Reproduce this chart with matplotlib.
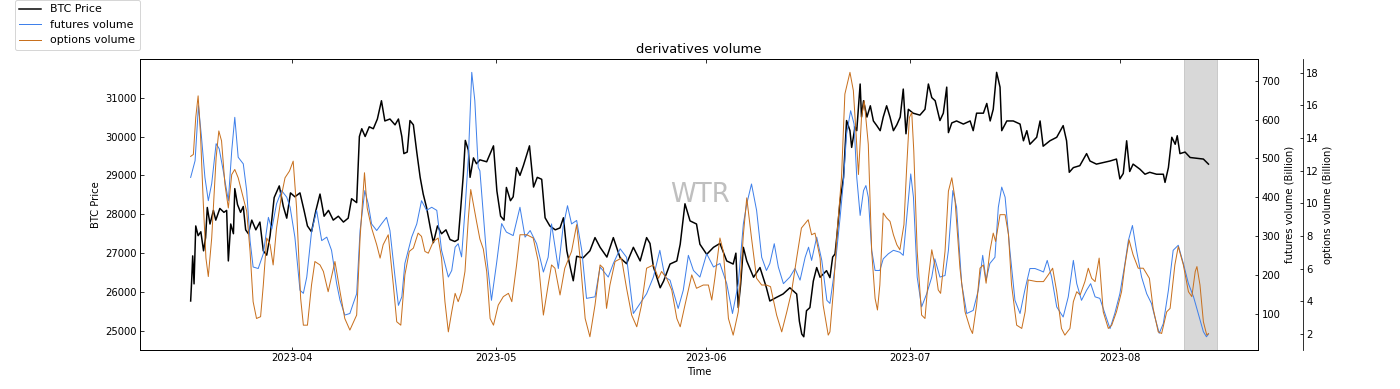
import pandas as pd
import matplotlib
matplotlib.use("Agg")
import matplotlib.pyplot as plt
import matplotlib.dates as mdates

# Werte (Tage seit 2023-03-17)
start = pd.Timestamp("2023-03-17")

price_days = [0.1, 0.25, 0.4, 0.6, 0.85, 1.2, 1.6, 2.0, 2.3, 2.55, 2.95, 3.45, 3.8, 4.4, 5.0, 5.4, 5.65, 6.0,
              6.4, 6.6, 7.0, 7.45, 7.85, 8.2, 8.6, 9.1, 9.7, 10.3, 10.8, 11.3, 11.8, 12.4, 13.15, 13.75, 14.25,
              14.8, 15.45, 16.2, 16.8, 17.3, 17.9, 18.55, 19.15, 19.75, 20.4, 21.1, 21.85, 22.6, 23.3, 23.8,
              24.55, 24.95, 25.3, 25.8, 26.4, 27.0, 27.6, 28.2, 28.7, 29.45, 30.2, 30.7, 31.2, 31.5, 32.0,
              32.4, 32.9, 33.4, 33.9, 34.35, 34.85, 35.45, 35.85, 36.45, 37.05, 37.7, 38.3, 39.0, 39.5, 39.85,
              40.25, 40.55, 41.0, 41.25, 41.75, 42.2, 42.7, 43.7, 44.7, 45.2, 45.75, 46.25, 46.6, 47.2, 47.6,
              48.1, 48.6, 49.1, 50.0, 50.6, 51.15, 51.8, 52.3, 53.0, 53.8, 54.5, 55.0, 55.5, 56.05, 56.45,
              56.95, 57.9, 58.9, 59.65, 60.4, 61.4, 62.35, 63.35, 64.3, 65.3, 66.3, 67.25, 67.75, 68.25, 68.75,
              69.25, 69.75, 70.7, 71.7, 72.2, 72.9, 73.65, 74.6, 75.1, 76.1, 77.1, 78.05, 79.05, 80.0, 80.4,
              80.75, 81.1, 81.5, 82.0, 83.0, 83.95, 84.9, 85.4, 86.35, 87.35, 88.35, 89.35, 89.75, 90.1, 90.4,
              90.8, 91.3, 91.8, 92.3, 92.8, 93.75, 94.25, 94.65, 95.0, 95.25, 95.75, 96.25, 96.7, 97.2, 97.45,
              97.95, 98.2, 98.7, 98.9, 99.2, 99.7, 100.2, 100.65, 101.15, 101.65, 102.1, 102.6, 103.1, 103.6,
              104.1, 104.6, 105.05, 105.45, 105.8, 106.5, 107.5, 108.25, 108.75, 109.25, 109.75, 110.45,
              110.95, 111.45, 111.7, 112.2, 112.9, 113.9, 114.9, 115.35, 115.85, 116.85, 117.35, 117.85, 118.3,
              118.8, 119.3, 119.55, 120.3, 121.25, 122.25, 122.75, 123.25, 123.7, 124.7, 125.2, 125.65, 126.65,
              127.65, 128.6, 129.1, 129.5, 130.1, 131.05, 132.05, 132.55, 133.5, 134.5, 135.5, 136.45, 136.95,
              137.45, 137.95, 138.4, 138.9, 139.9, 140.65, 141.35, 142.35, 143.35, 143.6, 144.1, 144.6, 145.1,
              145.4, 145.8, 146.55, 147.3, 148.3, 149.25, 150.0]
price_vals = [25770, 26300, 26930, 26210, 27700, 27450, 27550, 27060, 27400, 28175, 27750, 28100, 27850, 28150,
              28050, 28100, 26800, 27750, 27500, 28660, 28250, 28050, 28200, 27600, 27500, 27850, 27600, 27800,
              27060, 26950, 27450, 28430, 28730, 28200, 27900, 28550, 28450, 28550, 28100, 27700, 27550, 28100,
              28520, 27950, 28100, 27850, 27950, 27800, 27900, 28400, 28300, 30000, 30200, 30000, 30250, 30200,
              30450, 30920, 30400, 30450, 30300, 30450, 30000, 29560, 29600, 30410, 30300, 29600, 28950, 28520,
              28170, 27600, 27270, 27700, 27500, 27600, 27350, 27300, 27350, 28100, 29000, 29900, 29650, 28950,
              29450, 29300, 29400, 29350, 29760, 28600, 27950, 27850, 28690, 28350, 28450, 29200, 29000, 29250,
              29760, 28700, 28950, 28900, 27910, 27700, 27600, 27650, 27910, 27060, 26600, 26290, 26920, 26880,
              27060, 27400, 27150, 26900, 27400, 26880, 26730, 27150, 26800, 27400, 27250, 26650, 26380, 26110,
              26280, 26720, 26800, 27230, 28270, 27830, 27750, 27230, 26970, 27150, 27250, 26800, 26720, 27000,
              25600, 26200, 27150, 26800, 26380, 26630, 26110, 25770, 25860, 25950, 26110, 25950, 25250, 24920,
              24850, 25520, 25600, 26280, 26630, 26380, 26550, 26370, 26900, 26980, 27400, 28350, 28950, 30410,
              30150, 29720, 30250, 30150, 31350, 30500, 30920, 30500, 30790, 30400, 30280, 30150, 30500, 30790,
              30500, 30150, 30300, 30500, 31220, 30070, 30700, 30600, 30550, 30700, 31350, 31000, 30920, 30410,
              30600, 31270, 30100, 30350, 30400, 30320, 30400, 30150, 30600, 30600, 30850, 30400, 30700, 31650,
              31270, 30150, 30400, 30400, 30320, 29890, 30150, 29800, 29980, 30400, 29750, 29890, 29980, 30280,
              29890, 29080, 29200, 29250, 29560, 29370, 29290, 29330, 29370, 29420, 28910, 29050, 29890, 29100,
              29290, 29160, 29030, 29080, 29030, 29030, 28820, 29200, 29980, 29800, 30020, 29560, 29600, 29460,
              29440, 29420, 29290]

fut_days = [0.1, 0.75, 1.25, 1.7, 2.2, 2.7, 3.2, 3.85, 4.3, 4.9, 5.65, 6.15, 6.6, 7.1, 7.85, 8.35, 8.85, 9.3,
            10.05, 10.8, 11.55, 12.05, 12.75, 13.5, 14.25, 14.75, 15.45, 16.2, 16.7, 17.2, 17.9, 18.65, 19.4,
            20.15, 20.85, 21.6, 22.1, 22.8, 23.55, 24.05, 24.55, 25.05, 25.75, 26.25, 26.75, 27.5, 28.2, 28.95,
            29.45, 30.2, 30.7, 31.2, 31.65, 32.65, 33.4, 34.1, 34.85, 35.6, 36.35, 37.05, 38.05, 38.55, 39.05,
            39.5, 40.0, 40.5, 41.0, 41.5, 41.95, 42.45, 42.7, 43.7, 44.4, 45.15, 45.9, 46.6, 47.6, 48.6, 49.35,
            50.1, 51.05, 52.05, 52.75, 53.25, 54.25, 54.95, 55.6, 56.2, 56.95, 57.7, 58.4, 59.65, 60.4, 61.6,
            62.35, 63.35, 64.3, 65.3, 66.3, 67.25, 68.25, 69.2, 69.95, 70.7, 71.9, 72.65, 73.4, 74.15, 75.1,
            76.1, 77.1, 78.05, 79.05, 79.9, 80.75, 81.5, 82.0, 82.7, 83.45, 84.2, 84.9, 85.4, 86.05, 86.65,
            87.4, 88.35, 89.1, 89.85, 90.6, 91.1, 91.55, 92.3, 93.05, 93.8, 94.25, 95.0, 95.75, 96.25, 96.7,
            97.3, 97.8, 98.2, 98.7, 99.2, 99.55, 99.9, 100.4, 100.9, 101.6, 102.1, 102.85, 103.6, 104.55,
            105.05, 105.65, 106.15, 106.55, 107.1, 107.75, 108.5, 109.25, 109.7, 110.45, 111.2, 111.7, 112.35,
            112.9, 113.65, 114.4, 115.35, 116.1, 116.75, 117.25, 117.8, 118.55, 119.05, 119.55, 120.05,
            120.75, 121.5, 122.25, 122.95, 123.7, 124.45, 125.2, 125.7, 126.25, 126.9, 127.65, 128.6, 129.35,
            130.1, 130.6, 131.3, 132.05, 132.65, 133.3, 134.0, 134.75, 135.5, 136.2, 136.95, 137.7, 138.2,
            138.8, 139.4, 140.15, 140.9, 141.6, 142.1, 142.75, 143.35, 144.1, 144.8, 145.55, 146.3, 147.05,
            147.8, 148.5, 149.25, 149.7, 150.0]
fut_vals = [451, 494, 636, 554, 451, 391, 435, 538, 525, 468, 391, 520, 606, 503, 486, 417, 288, 220, 216, 254,
            348, 318, 383, 417, 400, 374, 297, 160, 152, 194, 310, 366, 288, 297, 263, 177, 134, 96, 100, 126,
            151, 314, 417, 383, 331, 314, 331, 348, 314, 194, 121, 143, 229, 297, 331, 391, 366, 374, 366, 263,
            194, 211, 271, 280, 246, 366, 503, 722, 649, 477, 468, 245, 134, 229, 332, 310, 301, 374, 297, 314,
            280, 207, 245, 331, 216, 323, 378, 331, 340, 263, 139, 143, 220, 194, 229, 267, 245, 100, 126, 151,
            194, 263, 194, 186, 113, 160, 250, 211, 194, 254, 220, 229, 177, 100, 177, 331, 383, 434, 366, 245,
            211, 229, 280, 220, 177, 194, 216, 186, 245, 271, 237, 297, 237, 134, 126, 220, 348, 443, 563, 623,
            589, 451, 353, 417, 430, 400, 263, 211, 211, 241, 254, 263, 258, 250, 366, 460, 400, 194, 117, 151,
            194, 241, 194, 198, 263, 417, 374, 177, 100, 108, 160, 250, 186, 229, 245, 374, 426, 400, 263, 134,
            100, 160, 216, 216, 211, 207, 237, 194, 117, 91, 143, 237, 177, 134, 160, 177, 143, 139, 100, 61,
            100, 151, 229, 288, 327, 263, 194, 151, 126, 91, 49, 74, 160, 263, 276, 229, 177, 143, 100, 53, 40,
            47]

opt_days = [0.1, 0.5, 0.85, 1.2, 1.55, 1.95, 2.35, 2.7, 3.2, 3.85, 4.25, 4.65, 5.15, 5.65, 6.15, 6.6, 7.1, 7.85,
            8.35, 8.85, 9.3, 9.8, 10.4, 10.8, 11.3, 11.8, 12.25, 12.75, 13.5, 14.0, 14.65, 15.2, 15.7, 16.3,
            16.7, 17.3, 17.9, 18.4, 19.15, 19.65, 20.35, 21.35, 22.1, 22.8, 23.55, 24.55, 25.05, 25.7, 26.1,
            26.75, 27.5, 28.0, 28.45, 29.2, 29.95, 30.45, 31.05, 31.65, 32.3, 32.9, 33.6, 34.1, 34.6, 35.1,
            35.85, 36.55, 37.05, 37.55, 38.05, 38.55, 39.05, 39.5, 40.0, 40.5, 41.0, 41.35, 41.75, 42.2, 42.7,
            43.2, 43.7, 44.2, 44.7, 45.4, 46.15, 46.9, 47.4, 48.1, 48.6, 49.6, 50.55, 51.3, 52.05, 52.75,
            53.25, 53.75, 54.5, 55.2, 56.2, 56.95, 57.45, 58.2, 58.9, 59.65, 60.4, 60.9, 61.35, 61.85, 62.6,
            63.55, 64.3, 65.05, 65.8, 66.5, 67.25, 68.25, 69.0, 69.45, 70.2, 70.95, 71.7, 72.2, 72.9, 73.9,
            74.6, 75.6, 76.35, 76.85, 77.3, 78.05, 78.55, 79.3, 80.0, 80.75, 81.5, 82.0, 82.7, 83.45, 84.2,
            84.9, 85.5, 86.4, 87.15, 87.9, 88.6, 89.35, 90.05, 91.05, 91.55, 92.05, 92.8, 93.25, 94.0, 94.25,
            94.75, 95.25, 95.95, 96.45, 97.2, 97.7, 98.1, 98.45, 98.9, 99.3, 99.9, 100.4, 100.9, 101.25, 101.6,
            102.1, 102.6, 103.1, 103.6, 104.1, 104.55, 105.15, 105.55, 105.95, 106.3, 106.6, 107.1, 107.75,
            108.25, 108.75, 109.25, 109.7, 110.2, 110.55, 111.2, 111.7, 112.2, 112.65, 113.4, 114.15, 114.9,
            115.25, 115.85, 116.35, 116.85, 117.25, 117.8, 118.3, 118.65, 119.3, 120.05, 120.55, 121.0,
            121.75, 122.5, 123.0, 123.45, 124.7, 125.7, 126.4, 127.05, 127.65, 128.35, 128.85, 129.6, 130.1,
            130.6, 131.1, 131.8, 132.3, 132.8, 133.3, 133.9, 134.5, 135.25, 135.75, 136.45, 137.2, 137.7,
            138.3, 138.9, 139.65, 140.4, 141.3, 141.85, 142.6, 143.1, 143.85, 144.35, 145.05, 145.55, 146.3,
            147.05, 147.55, 148.05, 148.3, 148.75, 149.25, 149.75, 150.0]
opt_vals = [12.87, 12.99, 15.25, 16.58, 14.23, 10.12, 6.64, 5.51, 7.87, 12.79, 14.43, 13.82, 11.15, 9.71, 11.76,
            12.07, 11.56, 10.33, 9.51, 7.05, 3.97, 2.94, 3.05, 4.99, 7.87, 7.46, 6.22, 8.48, 10.53, 11.56, 11.97,
            12.58, 9.71, 4.17, 2.53, 2.53, 4.99, 6.43, 6.22, 5.82, 4.58, 6.43, 4.58, 2.94, 2.23, 3.15, 7.87,
            11.87, 9.71, 8.48, 7.46, 6.64, 7.46, 8.07, 4.99, 2.74, 2.53, 5.61, 7.05, 7.25, 8.17, 7.97, 7.05,
            6.94, 7.66, 7.87, 6.64, 3.97, 2.12, 3.35, 4.48, 3.97, 4.58, 5.82, 9.1, 10.84, 9.92, 8.89, 7.8, 7.2,
            5.82, 2.94, 2.53, 3.76, 4.28, 4.48, 3.97, 6.22, 8.07, 8.07, 7.87, 6.43, 3.15, 4.99, 6.22, 6.02, 4.38,
            6.02, 7.05, 8.69, 6.64, 2.94, 1.82, 3.76, 6.22, 6.02, 3.56, 4.99, 6.43, 6.64, 4.79, 3.15, 2.43, 3.76,
            6.02, 6.22, 5.40, 5.82, 5.40, 4.69, 2.94, 2.43, 3.76, 5.61, 4.79, 4.99, 4.99, 4.07, 5.40, 7.87, 7.05,
            2.94, 1.92, 3.35, 8.07, 10.33, 7.87, 5.40, 4.99, 4.99, 4.89, 3.15, 2.12, 3.35, 4.58, 6.64, 8.48,
            8.99, 8.07, 8.17, 6.64, 3.76, 1.92, 2.12, 4.58, 7.87, 11.56, 16.69, 18.02, 16.9, 14.23, 11.76, 15.25,
            16.28, 13.61, 7.05, 4.17, 3.46, 4.99, 9.4, 9.1, 8.89, 8.07, 7.46, 7.15, 8.69, 12.17, 15.25, 15.56,
            13.2, 7.05, 3.15, 2.94, 5.40, 7.15, 6.22, 4.69, 4.48, 7.05, 10.74, 11.56, 10.33, 6.02, 3.35, 2.33,
            2.02, 3.76, 6.02, 6.22, 5.1, 7.05, 8.17, 7.66, 9.3, 9.3, 8.07, 4.99, 2.53, 2.33, 3.35, 5.3, 5.2, 5.2,
            5.61, 6.02, 4.58, 2.33, 1.92, 2.33, 3.97, 4.58, 4.38, 5.2, 6.02, 5.40, 5.2, 6.64, 3.35, 2.33, 2.53,
            3.35, 4.58, 6.22, 7.76, 6.84, 6.02, 6.02, 5.40, 3.56, 2.12, 2.02, 3.35, 3.56, 6.22, 7.35, 6.22, 4.58,
            4.28, 5.82, 6.12, 4.99, 2.74, 1.92, 2.02]

# grauer Bereich am Ende
span_days = (146.4, 151.2)


def to_dates(days):
    return start + pd.to_timedelta(days, unit="D")


plt.rcParams["xtick.direction"] = "in"
plt.rcParams["ytick.direction"] = "in"
plt.rcParams["xtick.top"] = True
plt.rcParams["font.size"] = 10

fig = plt.figure(figsize=(1400 / 72, 389 / 72), dpi=72)
ax = fig.add_axes([0.1, 0.1003, 0.7986, 0.7477])
ax2 = ax.twinx()
ax3 = ax.twinx()
ax3.spines["right"].set_position(("axes", 1.04))

l1, = ax.plot(to_dates(price_days), price_vals, color="black", linewidth=1.5, label="BTC Price")
l2, = ax2.plot(to_dates(fut_days), fut_vals, color="#3f80ea", linewidth=1.0, label="futures volume")
l3, = ax3.plot(to_dates(opt_days), opt_vals, color="#c8701e", linewidth=1.0, label="options volume")

ax.axvspan(to_dates([span_days[0]])[0], to_dates([span_days[1]])[0], color="gray", alpha=0.3)
ax.set_xlim(to_dates([-7.36])[0], to_dates([157.3])[0])

ax.xaxis.set_major_locator(mdates.MonthLocator())
ax.xaxis.set_major_formatter(mdates.DateFormatter("%Y-%m"))

ax.set_title("derivatives volume", fontsize=13)
ax.set_xlabel("Time")
ax.set_ylabel("BTC Price")
ax2.set_ylabel("futures volume (Billion)")
ax3.set_ylabel("options volume (Billion)")

fig.legend(handles=[l1, l2, l3], loc="upper left", bbox_to_anchor=(15 / 1400, 1.0), borderaxespad=0,
           fontsize=11)
fig.text(0.5, 0.5, "WTR", fontsize=26, color="gray", alpha=0.5, ha="center", va="center")

plt.savefig("out.png", dpi=72)
